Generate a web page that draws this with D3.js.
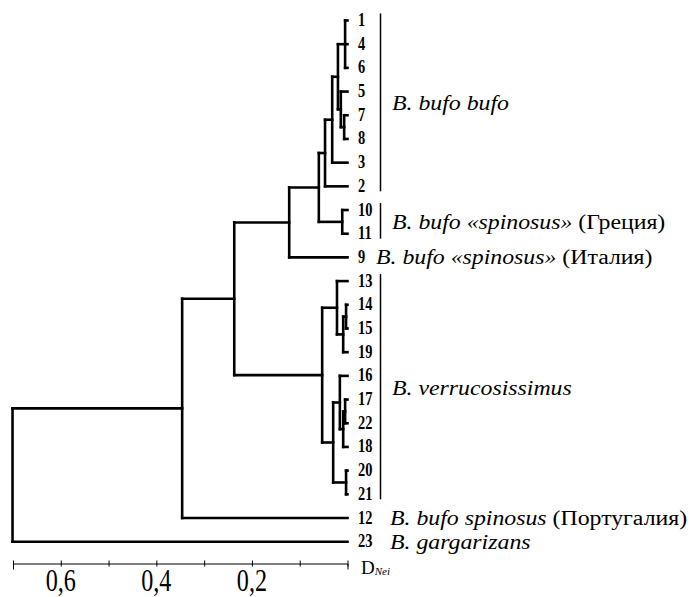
<!DOCTYPE html>
<html><head><meta charset="utf-8">
<script src="https://cdn.jsdelivr.net/npm/d3@7"></script>
<style>body{margin:0;background:#fff}svg{display:block}</style>
</head><body>
<svg id="chart" width="692" height="597"></svg>
<script>
// ---- data ----
const leafOrder = ["1","4","6","5","7","8","3","2","10","11","9","13","14","15","19","16","17","22","18","20","21","12","23"];
const nodeIds = ["a","n78","b","c","d","e","n1011","f","g","n1415","nA2","nA","n1722","nB2","nB16","n2021","nB","nV","h","i","root"];
const nodeHeights = [0.005,0.007,0.014,0.020,0.032,0.047,0.011,0.060,0.122,0.003,0.009,0.022,0.005,0.009,0.016,0.003,0.030,0.053,0.237,0.346,0.701];
const nodeChildren = [["1","4","6"],["7","8"],["5","n78"],["a","b"],["c","3"],["d","2"],["10","11"],["e","n1011"],["f","9"],["14","15"],["n1415","19"],["13","nA2"],["17","22"],["n1722","18"],["16","nB2"],["20","21"],["nB16","n2021"],["nA","nB"],["g","nV"],["h","12"],["i","23"]];
const tickValues = [0.7,0.6,0.5,0.4,0.3,0.2,0.1,0.0];
const tickLabels = ["","0,6","","0,4","","0,2","",""];
const groupFirst = ["1","10","9","13","12","23"];
const groupLast  = ["2","11","9","21","12","23"];
const groupItalic = ["B. bufo bufo","B. bufo «spinosus»","B. bufo «spinosus»","B. verrucosissimus","B. bufo spinosus","B. gargarizans"];
const groupPlain  = [""," (Греция)"," (Италия)",""," (Португалия)",""];
const groupBracket = [true,true,false,true,false,false];

const SERIF = "'Liberation Serif', 'Times New Roman', serif";

// ---- build tree ----
const parentOf = {};
nodeChildren.forEach((ch,i)=>ch.forEach(c=>parentOf[c]=nodeIds[i]));
const rows = [];
nodeIds.forEach((id,i)=>rows.push({id, h:nodeHeights[i], parent: parentOf[id]||null}));
leafOrder.forEach(id=>rows.push({id, h:0, parent: parentOf[id]}));
const root = d3.stratify().id(d=>d.id).parentId(d=>d.parent)(rows);

const svg = d3.select("#chart");
const x = d3.scaleLinear().domain([0.7,0]).range([13,347.5]);
const y = d3.scalePoint().domain(leafOrder).range([20.5,541.7]);

root.eachAfter(n=>{
  if(!n.children) n.y = y(n.id);
  else {
    const ys = n.children.map(c=>c.y);
    n.y = (d3.min(ys)+d3.max(ys))/2;
  }
});

const g = svg.append("g").attr("fill","none").attr("stroke","#000").attr("stroke-width",2.6).attr("stroke-linecap","square");
root.each(n=>{
  if(n.children){
    const ys = n.children.map(c=>c.y);
    g.append("line").attr("x1",x(n.data.h)).attr("x2",x(n.data.h)).attr("y1",d3.min(ys)).attr("y2",d3.max(ys));
  }
  if(n.parent){
    g.append("line").attr("x1",x(n.parent.data.h)).attr("x2",x(n.data.h)).attr("y1",n.y).attr("y2",n.y);
  }
});

// leaf numbers
svg.append("g").selectAll("text").data(leafOrder).join("text")
  .attr("transform",d=>`translate(358,${y(d)+5.5}) scale(0.9,1.2)`)
  .style("font-family",SERIF).style("font-weight","bold").style("font-size","16px")
  .text(d=>d);

// group labels
groupFirst.forEach((f,i)=>{
  const y0 = y(f), y1 = y(groupLast[i]);
  const my = (y0+y1)/2;
  const lx = groupBracket[i] ? 392 : (f.length>1 ? 390 : 376);
  if(groupBracket[i]){
    svg.append("line").attr("x1",380.5).attr("x2",380.5).attr("y1",y0-7).attr("y2",y1+5)
      .attr("stroke","#000").attr("stroke-width",1.5);
  }
  const t = svg.append("text").attr("transform",`translate(${lx},${my}) scale(1.19,1)`).attr("dy","0.34em")
    .style("font-family",SERIF).style("font-size","20px");
  t.append("tspan").style("font-style","italic").text(groupItalic[i]);
  if(groupPlain[i]) t.append("tspan").text(groupPlain[i]);
});

// axis
const axisY = 563.5;
const ax = svg.append("g").attr("transform",`translate(0,${axisY})`)
  .call(d3.axisBottom(x).tickValues(tickValues).tickSizeOuter(0).tickSize(6).tickFormat(()=>""));
ax.select(".domain").attr("stroke","#000").attr("stroke-width",1);
ax.selectAll(".tick line").attr("y1",-3).attr("y2",3).attr("stroke","#000").attr("stroke-width",1);
svg.append("g").selectAll("text").data(tickValues.filter((v,i)=>tickLabels[i])).join("text")
  .attr("transform",d=>`translate(${x(d)},591) scale(1.05,1.35)`)
  .attr("text-anchor","middle")
  .style("font-family",SERIF).style("font-size","23px")
  .text(d=>tickLabels[tickValues.indexOf(d)]);

// D_Nei
const dn = svg.append("text").attr("x",361).attr("y",574).style("font-family",SERIF);
dn.append("tspan").style("font-size","19px").text("D");
dn.append("tspan").style("font-size","11px").style("font-style","italic").attr("dy",1).text("Nei");
</script>
</body></html>
